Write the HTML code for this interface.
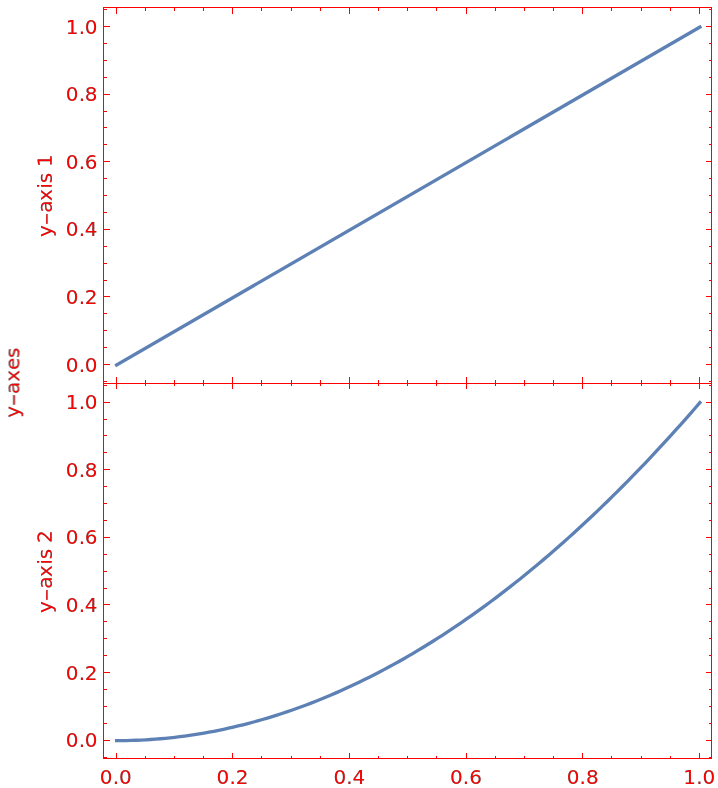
<!DOCTYPE html>
<html><head><meta charset="utf-8"><title>plot</title>
<style>
html,body{margin:0;padding:0;background:#fff;}
body{width:718px;height:788px;overflow:hidden;}
svg{display:block;will-change:transform;}
text{font-family:"DejaVu Sans", "Liberation Sans", sans-serif;font-size:20px;fill:#ff0000;}
.d{font-size:17.55px;stroke:#ff0000;stroke-width:0.3px;}
.f{stroke:#ff0000;stroke-width:1;fill:none;shape-rendering:crispEdges;}
.c{stroke:#5e81b5;stroke-width:3.3;fill:none;stroke-linecap:square;stroke-linejoin:round;}
</style></head><body>
<svg width="718" height="788" viewBox="0 0 718 788">
<rect x="0" y="0" width="718" height="788" fill="#fff"/>
<defs><filter id="aa" filterUnits="userSpaceOnUse" x="0" y="0" width="718" height="788" color-interpolation-filters="sRGB"><feColorMatrix type="matrix" values="0 0 0 1 0  0 0 0 0 0  0 0 0 0 0  0 0 0 1 0"/></filter></defs>

<path class="c" d="M116.6 365.05L699.9 27.05"/>
<path class="c" d="M116.60 740.65L121.46 740.63L126.32 740.56L131.18 740.44L136.04 740.27L140.90 740.06L145.76 739.80L150.63 739.50L155.49 739.15L160.35 738.75L165.21 738.30L170.07 737.81L174.93 737.27L179.79 736.68L184.65 736.05L189.51 735.37L194.37 734.64L199.23 733.87L204.09 733.04L208.96 732.18L213.82 731.26L218.68 730.30L223.54 729.29L228.40 728.23L233.26 727.13L238.12 725.98L242.98 724.78L247.84 723.54L252.70 722.25L257.56 720.91L262.42 719.52L267.29 718.09L272.15 716.61L277.01 715.09L281.87 713.52L286.73 711.90L291.59 710.23L296.45 708.52L301.31 706.76L306.17 704.95L311.03 703.09L315.89 701.19L320.75 699.25L325.62 697.25L330.48 695.21L335.34 693.12L340.20 690.98L345.06 688.80L349.92 686.57L354.78 684.29L359.64 681.97L364.50 679.60L369.36 677.18L374.22 674.72L379.09 672.20L383.95 669.65L388.81 667.04L393.67 664.39L398.53 661.69L403.39 658.94L408.25 656.15L413.11 653.31L417.97 650.42L422.83 647.49L427.69 644.51L432.55 641.48L437.41 638.40L442.28 635.28L447.14 632.11L452.00 628.90L456.86 625.64L461.72 622.33L466.58 618.97L471.44 615.57L476.30 612.12L481.16 608.62L486.02 605.07L490.88 601.48L495.75 597.85L500.61 594.16L505.47 590.43L510.33 586.65L515.19 582.82L520.05 578.95L524.91 575.03L529.77 571.06L534.63 567.05L539.49 562.99L544.35 558.88L549.21 554.73L554.07 550.52L558.94 546.28L563.80 541.98L568.66 537.64L573.52 533.25L578.38 528.81L583.24 524.33L588.10 519.80L592.96 515.22L597.82 510.60L602.68 505.93L607.54 501.21L612.40 496.44L617.27 491.63L622.13 486.77L626.99 481.87L631.85 476.92L636.71 471.92L641.57 466.87L646.43 461.78L651.29 456.64L656.15 451.45L661.01 446.21L665.87 440.93L670.73 435.60L675.60 430.23L680.46 424.81L685.32 419.34L690.18 413.82L695.04 408.26L699.90 402.65"/>
<path class="f" d="M103.5 7.5H711.5V758.5H103.5ZM103.5 383.5H711.5M116.5 7.5v6.5M116.5 377.0v12.0M116.5 758.5v-5.5M145.5 7.5v3.5M145.5 380.0v6.0M145.5 758.5v-2.5M174.5 7.5v3.5M174.5 380.0v6.0M174.5 758.5v-2.5M203.5 7.5v3.5M203.5 380.0v6.0M203.5 758.5v-2.5M232.5 7.5v6.5M232.5 377.0v12.0M232.5 758.5v-5.5M261.5 7.5v3.5M261.5 380.0v6.0M261.5 758.5v-2.5M291.5 7.5v3.5M291.5 380.0v6.0M291.5 758.5v-2.5M320.5 7.5v3.5M320.5 380.0v6.0M320.5 758.5v-2.5M349.5 7.5v6.5M349.5 377.0v12.0M349.5 758.5v-5.5M378.5 7.5v3.5M378.5 380.0v6.0M378.5 758.5v-2.5M407.5 7.5v3.5M407.5 380.0v6.0M407.5 758.5v-2.5M436.5 7.5v3.5M436.5 380.0v6.0M436.5 758.5v-2.5M466.5 7.5v6.5M466.5 377.0v12.0M466.5 758.5v-5.5M495.5 7.5v3.5M495.5 380.0v6.0M495.5 758.5v-2.5M524.5 7.5v3.5M524.5 380.0v6.0M524.5 758.5v-2.5M553.5 7.5v3.5M553.5 380.0v6.0M553.5 758.5v-2.5M582.5 7.5v6.5M582.5 377.0v12.0M582.5 758.5v-5.5M611.5 7.5v3.5M611.5 380.0v6.0M611.5 758.5v-2.5M641.5 7.5v3.5M641.5 380.0v6.0M641.5 758.5v-2.5M670.5 7.5v3.5M670.5 380.0v6.0M670.5 758.5v-2.5M699.5 7.5v6.5M699.5 377.0v12.0M699.5 758.5v-5.5M103.5 381.5h3.5M711.5 381.5h-2.5M103.5 364.5h6.5M711.5 364.5h-5.5M103.5 347.5h3.5M711.5 347.5h-2.5M103.5 330.5h3.5M711.5 330.5h-2.5M103.5 313.5h3.5M711.5 313.5h-2.5M103.5 296.5h6.5M711.5 296.5h-5.5M103.5 280.5h3.5M711.5 280.5h-2.5M103.5 263.5h3.5M711.5 263.5h-2.5M103.5 246.5h3.5M711.5 246.5h-2.5M103.5 229.5h6.5M711.5 229.5h-5.5M103.5 212.5h3.5M711.5 212.5h-2.5M103.5 195.5h3.5M711.5 195.5h-2.5M103.5 178.5h3.5M711.5 178.5h-2.5M103.5 161.5h6.5M711.5 161.5h-5.5M103.5 144.5h3.5M711.5 144.5h-2.5M103.5 127.5h3.5M711.5 127.5h-2.5M103.5 111.5h3.5M711.5 111.5h-2.5M103.5 94.5h6.5M711.5 94.5h-5.5M103.5 77.5h3.5M711.5 77.5h-2.5M103.5 60.5h3.5M711.5 60.5h-2.5M103.5 43.5h3.5M711.5 43.5h-2.5M103.5 26.5h6.5M711.5 26.5h-5.5M103.5 9.5h3.5M711.5 9.5h-2.5M103.5 757.5h3.5M711.5 757.5h-2.5M103.5 740.5h6.5M711.5 740.5h-5.5M103.5 723.5h3.5M711.5 723.5h-2.5M103.5 706.5h3.5M711.5 706.5h-2.5M103.5 689.5h3.5M711.5 689.5h-2.5M103.5 672.5h6.5M711.5 672.5h-5.5M103.5 655.5h3.5M711.5 655.5h-2.5M103.5 638.5h3.5M711.5 638.5h-2.5M103.5 621.5h3.5M711.5 621.5h-2.5M103.5 604.5h6.5M711.5 604.5h-5.5M103.5 588.5h3.5M711.5 588.5h-2.5M103.5 571.5h3.5M711.5 571.5h-2.5M103.5 554.5h3.5M711.5 554.5h-2.5M103.5 537.5h6.5M711.5 537.5h-5.5M103.5 520.5h3.5M711.5 520.5h-2.5M103.5 503.5h3.5M711.5 503.5h-2.5M103.5 486.5h3.5M711.5 486.5h-2.5M103.5 469.5h6.5M711.5 469.5h-5.5M103.5 452.5h3.5M711.5 452.5h-2.5M103.5 435.5h3.5M711.5 435.5h-2.5M103.5 419.5h3.5M711.5 419.5h-2.5M103.5 402.5h6.5M711.5 402.5h-5.5M103.5 385.5h3.5M711.5 385.5h-2.5"/>
<g filter="url(#aa)">
<text transform="translate(65.75 372) scale(1 0.975)" x="0 13 19">0.0</text>
<text transform="translate(65.75 304) scale(1 0.975)" x="0 13 19">0.2</text>
<text transform="translate(65.75 236) scale(1 0.975)" x="0 13 19">0.4</text>
<text transform="translate(65.75 169) scale(1 0.975)" x="0 13 19">0.6</text>
<text transform="translate(65.75 101) scale(1 0.975)" x="0 13 19">0.8</text>
<text transform="translate(65.75 34) scale(1 0.975)" x="0 13 19">1.0</text>
<text transform="translate(65.75 747) scale(1 0.975)" x="0 13 19">0.0</text>
<text transform="translate(65.75 680) scale(1 0.975)" x="0 13 19">0.2</text>
<text transform="translate(65.75 612) scale(1 0.975)" x="0 13 19">0.4</text>
<text transform="translate(65.75 544) scale(1 0.975)" x="0 13 19">0.6</text>
<text transform="translate(65.75 477) scale(1 0.975)" x="0 13 19">0.8</text>
<text transform="translate(65.75 409) scale(1 0.975)" x="0 13 19">1.0</text>
<text transform="translate(99.85 784) scale(1 0.975)" x="0 12.9 19.2">0.0</text>
<text transform="translate(216.57 784) scale(1 0.975)" x="0 12.9 19.2">0.2</text>
<text transform="translate(333.40 784) scale(1 0.975)" x="0 12.9 19.2">0.4</text>
<text transform="translate(449.95 784) scale(1 0.975)" x="0 12.9 19.2">0.6</text>
<text transform="translate(566.70 784) scale(1 0.975)" x="0 12.9 19.2">0.8</text>
<text transform="translate(683.30 784) scale(1 0.975)" x="0 12.9 19.2">1.0</text>
<text transform="translate(51.83 196) rotate(-89.95) scale(1 0.975)" x="-40.92 -28.58 -16.88 -4.94 7.17 12.82 26.00 28.98">y<tspan class="d" dy="-0.32">‒</tspan><tspan dy="0.32">axis 1</tspan></text>
<text transform="translate(51.83 572) rotate(-89.95) scale(1 0.975)" x="-40.92 -28.58 -16.88 -4.94 7.17 12.82 26.00 28.98">y<tspan class="d" dy="-0.32">‒</tspan><tspan dy="0.32">axis 2</tspan></text>
<text transform="translate(19.33 383) rotate(-89.95) scale(1 0.975)" x="-34.77 -22.63 -10.94 1.16 12.92 25.00">y<tspan class="d" dy="-0.52">‒</tspan><tspan dy="0.52">axes</tspan></text>
</g>
</svg></body></html>
